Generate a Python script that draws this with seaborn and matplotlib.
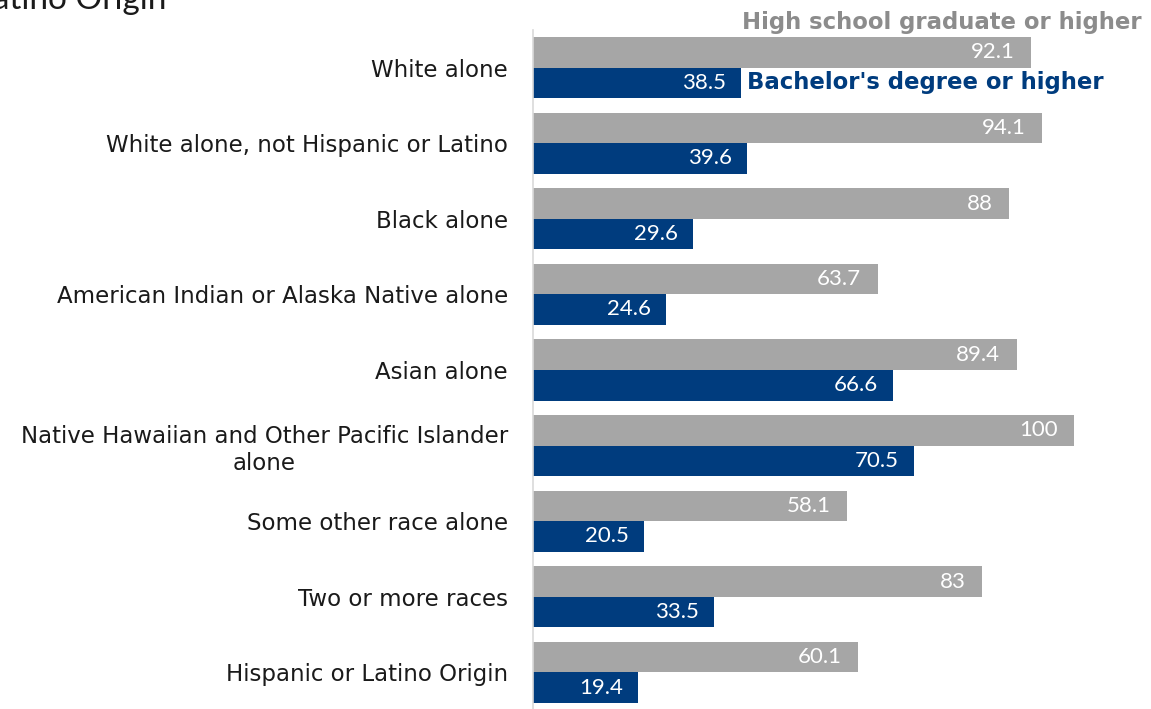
import matplotlib
matplotlib.use("Agg")
import matplotlib.pyplot as plt
import seaborn as sns
import pandas as pd

categories = [
    "White alone",
    "White alone, not Hispanic or Latino",
    "Black alone",
    "American Indian or Alaska Native alone",
    "Asian alone",
    "Native Hawaiian and Other Pacific Islander\nalone",
    "Some other race alone",
    "Two or more races",
    "Hispanic or Latino Origin",
]
high_school = [92.1, 94.1, 88, 63.7, 89.4, 100, 58.1, 83, 60.1]
bachelor = [38.5, 39.6, 29.6, 24.6, 66.6, 70.5, 20.5, 33.5, 19.4]
high_school_labels = ["92.1", "94.1", "88", "63.7", "89.4", "100", "58.1", "83", "60.1"]
bachelor_labels = ["38.5", "39.6", "29.6", "24.6", "66.6", "70.5", "20.5", "33.5", "19.4"]
series_names = ["High school graduate or higher", "Bachelor's degree or higher"]

GRAY = "#A6A6A6"
BLUE = "#003C7E"

df = pd.DataFrame({
    "category": categories * 2,
    "value": high_school + bachelor,
    "series": [series_names[0]] * len(categories) + [series_names[1]] * len(categories),
})

sns.set_theme(style="white")
plt.rcParams["font.family"] = ["DejaVu Sans"]

fig = plt.figure(figsize=(11.51, 7.09), dpi=100)
ax = fig.add_axes([533 / 1151, 0, (1140 - 533) / 1151, (709 - 30) / 709])

sns.barplot(data=df, y="category", x="value", hue="series", orient="h",
            palette=[GRAY, BLUE], width=0.81, dodge=True, ax=ax,
            legend=False, saturation=1, errorbar=None, linewidth=0)

xmax = (1140 - 533) / 5.41
ax.set_xlim(0, xmax)
ax.set_ylim(8.483, -0.496)
ax.set_xlabel("")
ax.set_ylabel("")
ax.set_xticks([])
for s in ["top", "right", "bottom"]:
    ax.spines[s].set_visible(False)
ax.spines["left"].set_color("#D9D9D9")
ax.spines["left"].set_linewidth(1.2)
ax.tick_params(axis="y", length=0, pad=18)
for lbl in ax.get_yticklabels():
    lbl.set_fontsize(16.5)
    lbl.set_color("#1A1A1A")
    lbl.set_multialignment("center")

# value labels
off = 0.2
vfont = dict(ha="right", va="center", color="white", fontsize=16, family=["Lato", "DejaVu Sans"])
for i, (v, t) in enumerate(zip(high_school, high_school_labels)):
    ax.annotate(t, xy=(v, i - off), xytext=(-12, 0), textcoords="offset points", **vfont)
for i, (v, t) in enumerate(zip(bachelor, bachelor_labels)):
    ax.annotate(t, xy=(v, i + off), xytext=(-11, 0), textcoords="offset points", **vfont)

# series labels
ax.annotate(series_names[1], xy=(bachelor[0], 0 + off), xytext=(4, 0), textcoords="offset points",
            ha="left", va="center", color=BLUE, fontsize=16.4, fontweight="bold")
fig.text(1142 / 1151, 1 - 22 / 709, series_names[0], ha="right", va="center",
         color="#8C8C8C", fontsize=16.4, fontweight="bold")

# clipped title remnant at top-left
fig.text(166 / 1151, 1 - 9 / 709, "Educational Attainment by Race and Hispanic or Latino Origin",
         ha="right", va="baseline", color="#1A1A1A", fontsize=24,
         family=["Lato", "DejaVu Sans"])

fig.savefig("out.png", dpi=100)
